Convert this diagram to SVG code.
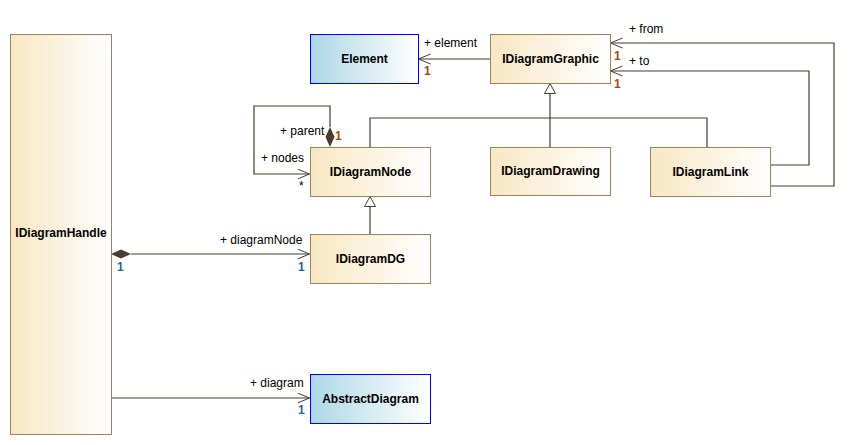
<svg xmlns="http://www.w3.org/2000/svg" width="855" height="445" viewBox="0 0 855 445">
  <defs>
    <linearGradient id="classFill" x1="0" y1="0" x2="1" y2="0">
      <stop offset="0" stop-color="#f8e7c3"/>
      <stop offset="1" stop-color="#ffffff"/>
    </linearGradient>
    <linearGradient id="extFill" x1="0" y1="0" x2="1" y2="0">
      <stop offset="0" stop-color="#add8e6"/>
      <stop offset="1" stop-color="#ffffff"/>
    </linearGradient>
    <marker id="open" viewBox="0 0 12 12" refX="12" refY="6" markerWidth="12" markerHeight="12" markerUnits="userSpaceOnUse" orient="auto">
      <path d="M0,1 L12,6 L0,11" fill="none" stroke="#4a3c28" stroke-width="1"/>
    </marker>
    <marker id="tri" viewBox="0 0 12 12" refX="11" refY="6" markerWidth="12" markerHeight="12" markerUnits="userSpaceOnUse" orient="auto">
      <path d="M1,0.5 L11,6 L1,11.5 Z" fill="#ffffff" stroke="#4a3c28" stroke-width="1"/>
    </marker>
  </defs>
  <style>
    .cls { fill: url(#classFill); stroke: #9a8356; stroke-width: 1; }
    .ext { fill: url(#extFill); stroke: #0000ff; stroke-width: 1; }
    .name { font-family: "Liberation Sans", Arial, sans-serif; font-size: 12px; font-weight: bold; fill: #000; text-anchor: middle; }
    .lbl { font-family: "Liberation Sans", Arial, sans-serif; font-size: 12px; fill: #000; }
    .m1 { font-family: "Liberation Sans", Arial, sans-serif; font-size: 12px; font-weight: bold; fill: #9c4a10; }
    .m2 { font-family: "Liberation Sans", Arial, sans-serif; font-size: 12px; font-weight: bold; fill: #1f5f9f; }
    .ln { fill: none; stroke: #4a3c28; stroke-width: 1.2; }
    .head { fill: #4a3c28; }
  </style>
  <rect width="855" height="445" fill="#ffffff"/>

  <g id="connectors">
    <!-- IDiagramGraphic.element -> Element -->
    <path class="ln" d="M490,59 H418.5" marker-end="url(#open)"/>
    <text class="lbl" x="424" y="47">+ element</text>
    <text class="m1" x="424" y="75">1</text>

    <!-- IDiagramLink.from -->
    <path class="ln" d="M770,186 H834 V43 H610.5" marker-end="url(#open)"/>
    <text class="lbl" x="629" y="33">+ from</text>
    <text class="m1" x="614" y="60">1</text>

    <!-- IDiagramLink.to -->
    <path class="ln" d="M770,165 H809 V71 H610.5" marker-end="url(#open)"/>
    <text class="lbl" x="629" y="65">+ to</text>
    <text class="m1" x="614" y="88">1</text>

    <!-- generalizations to IDiagramGraphic -->
    <path class="ln" d="M550,147 V83.5" marker-end="url(#tri)"/>
    <path class="ln" d="M370,147 V118 H707 V147"/>

    <!-- IDiagramNode self association -->
    <path class="ln" d="M330,127 V106 H254 V174 H309.5" marker-end="url(#open)"/>
    <path class="head" d="M330,147 L325.5,137 L330,127 L334.5,137 Z"/>
    <text class="lbl" x="280" y="135">+ parent</text>
    <text class="m1" x="335" y="140">1</text>
    <text class="lbl" x="261" y="162">+ nodes</text>
    <text class="lbl" x="299" y="190">*</text>

    <!-- IDiagramDG -> IDiagramNode -->
    <path class="ln" d="M370,234 V196.5" marker-end="url(#tri)"/>

    <!-- IDiagramHandle.diagramNode -->
    <path class="ln" d="M131,254 H309.5" marker-end="url(#open)"/>
    <path class="head" d="M111,254 L121,249.5 L131,254 L121,258.5 Z"/>
    <text class="lbl" x="220" y="244">+ diagramNode</text>
    <text class="m2" x="117" y="271">1</text>
    <text class="m2" x="298" y="271">1</text>

    <!-- IDiagramHandle.diagram -->
    <path class="ln" d="M111,398 H309.5" marker-end="url(#open)"/>
    <text class="lbl" x="250" y="387">+ diagram</text>
    <text class="m2" x="298" y="414">1</text>
  </g>

  <g id="IDiagramHandle">
    <rect class="cls" x="10.5" y="34.5" width="101" height="400"/>
    <text class="name" x="61" y="237">IDiagramHandle</text>
  </g>
  <g id="Element">
    <rect class="ext" x="310.5" y="34.5" width="108" height="49"/>
    <text class="name" x="364.5" y="63">Element</text>
  </g>
  <g id="IDiagramGraphic">
    <rect class="cls" x="490.5" y="34.5" width="120" height="49"/>
    <text class="name" x="550.5" y="63">IDiagramGraphic</text>
  </g>
  <g id="IDiagramNode">
    <rect class="cls" x="310.5" y="147.5" width="120" height="49"/>
    <text class="name" x="370.5" y="176">IDiagramNode</text>
  </g>
  <g id="IDiagramDrawing">
    <rect class="cls" x="490.5" y="147.5" width="120" height="48"/>
    <text class="name" x="550.5" y="175">IDiagramDrawing</text>
  </g>
  <g id="IDiagramLink">
    <rect class="cls" x="650.5" y="147.5" width="120" height="49"/>
    <text class="name" x="710.5" y="176">IDiagramLink</text>
  </g>
  <g id="IDiagramDG">
    <rect class="cls" x="310.5" y="234.5" width="120" height="49"/>
    <text class="name" x="370.5" y="263">IDiagramDG</text>
  </g>
  <g id="AbstractDiagram">
    <rect class="ext" x="310.5" y="374.5" width="120" height="49"/>
    <text class="name" x="370.5" y="403">AbstractDiagram</text>
  </g>
</svg>
